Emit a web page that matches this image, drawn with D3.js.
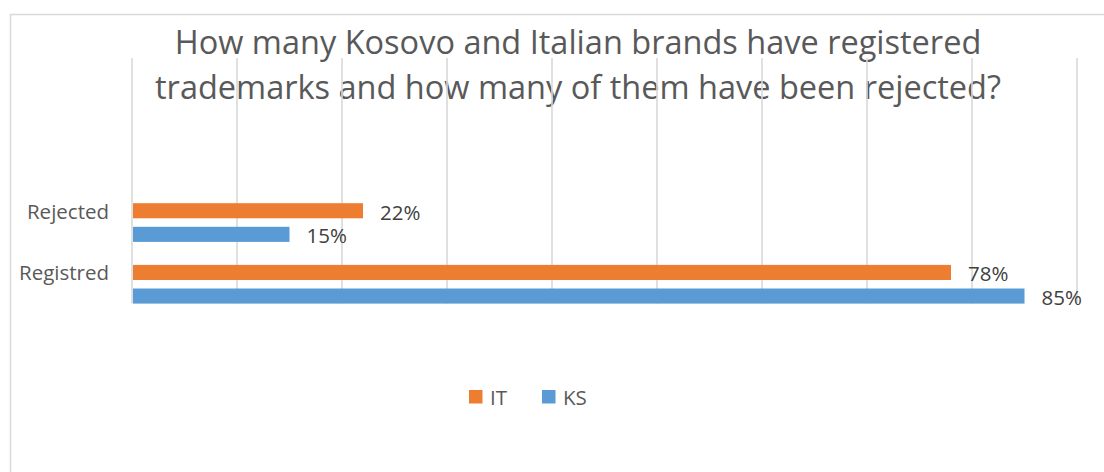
<!DOCTYPE html>
<html>
<head>
<meta charset="utf-8">
<script src="https://cdn.jsdelivr.net/npm/d3@7/dist/d3.min.js"></script>
<style>
  html, body { margin: 0; padding: 0; background: #fff; }
  svg { display: block; font-family: "Open Sans", "Noto Sans", sans-serif; }
</style>
</head>
<body>
<svg id="chart" width="1104" height="472"></svg>
<script>
// Share of brands with registered / rejected trademarks, by country
const categories = ["Rejected", "Registred"];
const seriesNames = ["IT", "KS"];
const seriesIT = [0.22, 0.78];
const seriesKS = [0.15, 0.85];
const tickValues = [0, 0.1, 0.2, 0.3, 0.4, 0.5, 0.6, 0.7, 0.8, 0.9];
const titleLines = [
  "How many Kosovo and Italian brands have registered",
  "trademarks and how many of them have been rejected?"
];

const colors = { IT: "#ED7D31", KS: "#5B9BD5" };
const values = { IT: seriesIT, KS: seriesKS };

const svg = d3.select("#chart");

// chart frame
svg.append("rect")
  .attr("x", 10.5).attr("y", 14.5)
  .attr("width", 1120).attr("height", 480)
  .attr("fill", "#fff")
  .attr("stroke", "#d9d9d9")
  .attr("stroke-width", 1.5);

// title
svg.append("g")
  .selectAll("text")
  .data(titleLines)
  .join("text")
  .attr("x", 578)
  .attr("y", (d, i) => 54 + i * 45)
  .attr("text-anchor", "middle")
  .attr("fill", "#595959")
  .attr("font-size", 32.5)
  .text(d => d);

// scales
const x = d3.scaleLinear().domain([0, 0.9]).range([132, 1077]);
const gridTop = 58, gridBottom = 303.5;

const y = d3.scaleBand()
  .domain(categories)
  .range([191.7, 315.1])
  .paddingInner(0);

const ySub = d3.scaleBand()
  .domain(seriesNames)
  .range([11.5, 50.2])
  .paddingInner(0.36);

// vertical gridlines
svg.append("g")
  .selectAll("line")
  .data(tickValues)
  .join("line")
  .attr("x1", d => x(d)).attr("x2", d => x(d))
  .attr("y1", gridTop).attr("y2", gridBottom)
  .attr("stroke", "#d9d9d9")
  .attr("stroke-width", 1.6);

// bars
const rows = [];
categories.forEach((c, ci) => {
  seriesNames.forEach(s => rows.push({ cat: c, series: s, value: values[s][ci] }));
});

const barY = d => y(d.cat) + ySub(d.series);

svg.append("g")
  .selectAll("rect")
  .data(rows)
  .join("rect")
  .attr("x", x(0) + 1)
  .attr("y", barY)
  .attr("width", d => x(d.value) - x(0) - 1)
  .attr("height", ySub.bandwidth())
  .attr("fill", d => colors[d.series]);

// value labels
svg.append("g")
  .selectAll("text")
  .data(rows)
  .join("text")
  .attr("x", d => x(d.value) + 17)
  .attr("y", d => barY(d) + ySub.bandwidth() / 2 + 1)
  .attr("dominant-baseline", "central")
  .attr("fill", "#404040")
  .attr("font-size", 20.5)
  .text(d => d3.format(".0%")(d.value));

// category labels
svg.append("g")
  .selectAll("text")
  .data(categories)
  .join("text")
  .attr("x", 109)
  .attr("y", d => y(d) + ySub("IT") + ySub.bandwidth() / 2)
  .attr("text-anchor", "end")
  .attr("dominant-baseline", "central")
  .attr("fill", "#595959")
  .attr("font-size", 20.5)
  .text(d => d);

// legend
const legend = svg.append("g")
  .selectAll("g")
  .data(seriesNames)
  .join("g")
  .attr("transform", (d, i) => `translate(${469 + i * 73},390)`);

legend.append("rect")
  .attr("width", 13.5).attr("height", 13.5)
  .attr("fill", d => colors[d]);

legend.append("text")
  .attr("x", 21)
  .attr("y", 7)
  .attr("dominant-baseline", "central")
  .attr("fill", "#595959")
  .attr("font-size", 20.5)
  .text(d => d);
</script>
</body>
</html>
